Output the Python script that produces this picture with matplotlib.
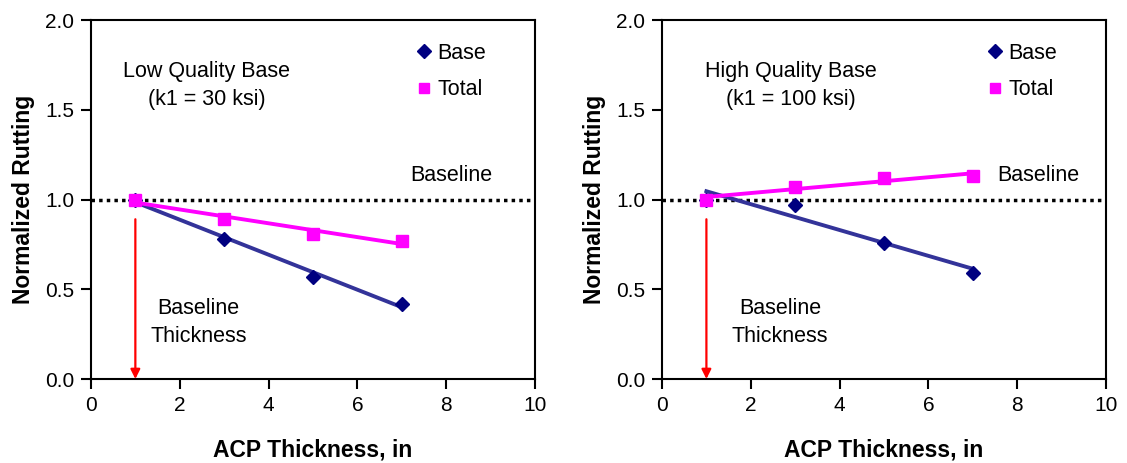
import numpy as np
import matplotlib.pyplot as plt
from matplotlib.lines import Line2D

plt.rcParams['font.family'] = ['Liberation Sans', 'DejaVu Sans']

# ACP thickness (in)
thickness = [1, 3, 5, 7]

# low quality base, k1 = 30 ksi
low_base = [1.00, 0.78, 0.57, 0.42]
low_total = [1.00, 0.89, 0.81, 0.77]

# high quality base, k1 = 100 ksi
high_base = [1.00, 0.97, 0.76, 0.59]
high_total = [1.00, 1.07, 1.12, 1.13]

# title, base, total, title x, "Baseline" label x, "Baseline Thickness" x
panels = [
    ("Low Quality Base\n(k1 = 30 ksi)", low_base, low_total, 2.6, 7.2, 2.42),
    ("High Quality Base\n(k1 = 100 ksi)", high_base, high_total, 2.9, 7.55, 2.66),
]

base_col = "#000080"
base_line = "#333399"
total_col = "#FF00FF"
fs = 15.5

fig = plt.figure(figsize=(11.27, 4.63), dpi=100)
ax_pos = [[0.0807, 0.1814, 0.394, 0.7754], [0.5874, 0.1814, 0.394, 0.7754]]

for pos, (title, base, total, tx, bl_x, bt_x) in zip(ax_pos, panels):
    ax = fig.add_axes(pos)
    x = np.array(thickness)

    # linear trendlines
    for y, col in [(base, base_line), (total, total_col)]:
        p = np.polyfit(x, y, 1)
        ax.plot([x[0], x[-1]], np.polyval(p, [x[0], x[-1]]), color=col, lw=2.8, zorder=2)

    ax.plot(x, base, linestyle="none", marker="D", color=base_col, ms=7.5, zorder=3)
    ax.plot(x, total, linestyle="none", marker="s", color=total_col, ms=8.5, zorder=3)

    ax.axhline(1.0, color="black", linestyle=(0, (1, 1.2)), lw=2.5, zorder=1)
    ax.annotate("", xy=(1, 0.0), xytext=(1, 0.89),
                arrowprops=dict(arrowstyle="-|>", color="red", lw=1.6, mutation_scale=14,
                                shrinkA=0, shrinkB=0))

    ax.text(tx, 1.635, title, ha="center", va="center", fontsize=fs, linespacing=1.45)
    ax.text(bl_x, 1.135, "Baseline", ha="left", va="center", fontsize=fs)
    ax.text(bt_x, 0.315, "Baseline\nThickness", ha="center", va="center", fontsize=fs,
            linespacing=1.45)

    handles = [Line2D([], [], linestyle="none", marker="D", color=base_col, ms=7),
               Line2D([], [], linestyle="none", marker="s", color=total_col, ms=7.5)]
    ax.legend(handles, ["Base", "Total"], loc="upper left", bbox_to_anchor=(0.713, 0.96),
              frameon=False, fontsize=fs, handlelength=0.7, handletextpad=0.3,
              labelspacing=0.72, borderaxespad=0)

    ax.set_xlim(0, 10)
    ax.set_ylim(0, 2.0)
    ax.set_xticks(range(0, 11, 2))
    ax.set_yticks([0.0, 0.5, 1.0, 1.5, 2.0])
    ax.set_yticklabels(["0.0", "0.5", "1.0", "1.5", "2.0"])
    ax.tick_params(direction="out", length=7, width=1.5, labelsize=15, pad=5)
    for s in ax.spines.values():
        s.set_linewidth(1.5)
    ax.set_xlabel("ACP Thickness, in", fontsize=16.5, fontweight="bold", labelpad=17)
    ax.set_ylabel("Normalized Rutting", fontsize=16.5, fontweight="bold", labelpad=7)

fig.savefig("out.png", dpi=100)
